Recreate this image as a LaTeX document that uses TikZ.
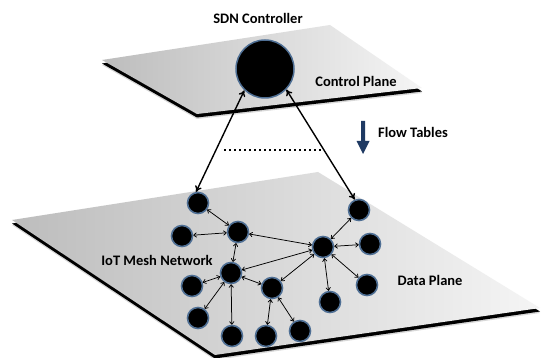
\documentclass[tikz,border=0pt]{standalone}
\usepackage{fontspec}
\setmainfont{Carlito}
\usetikzlibrary{arrows.meta,calc}
\definecolor{devblue}{HTML}{4F6F94}
\definecolor{flownavy}{HTML}{1F3A63}
\begin{document}
\begin{tikzpicture}[x=1pt,y=-1pt,
  lbl/.style={font=\fontsize{14.5}{16}\selectfont\bfseries, inner sep=0pt},
  dev/.style={circle, fill=black, draw=devblue, line width=1.6pt, minimum size=21pt, inner sep=0pt},
  ctrlnode/.style={circle, fill=black, draw=devblue, line width=1.5pt, minimum size=58pt, inner sep=0pt},
  link/.style={{To[length=3.5pt,width=5pt]}-{To[length=3.5pt,width=5pt]}, line width=0.75pt},
  uplink/.style={{To[length=6pt,width=7pt]}-{To[length=6pt,width=7pt]}, line width=1.4pt},
  planeedge/.style={fill=black},
  planeface/.style={left color=black!26, right color=black!4},
]
\useasboundingbox (0,0) rectangle (542,358);
\fill[white] (0,0) rectangle (542,358);

% ---------- data plane ----------
\coordinate (dL) at (12,220);
\coordinate (dT) at (318,172);
\coordinate (dR) at (540,308);
\coordinate (dB) at (215,355);
\fill[black!30, opacity=0.5] ($(dL)+(0,5)$) -- ($(dT)+(0,5)$) -- ($(dR)+(0,5)$) -- ($(dB)+(0,5)$) -- cycle;
\fill[planeedge] ($(dL)+(0,3.5)$) -- ($(dT)+(0,3.5)$) -- ($(dR)+(0,3.5)$) -- ($(dB)+(0,3.5)$) -- cycle;
\shade[planeface] (dL) -- (dT) -- (dR) -- (dB) -- cycle;

% ---------- control plane ----------
\coordinate (cL) at (102,60);
\coordinate (cT) at (330,25);
\coordinate (cR) at (422,88);
\coordinate (cB) at (197,114);
\fill[black!30, opacity=0.5] ($(cL)+(0,5)$) -- ($(cT)+(0,5)$) -- ($(cR)+(0,5)$) -- ($(cB)+(0,5)$) -- cycle;
\fill[planeedge] ($(cL)+(0,3.5)$) -- ($(cT)+(0,3.5)$) -- ($(cR)+(0,3.5)$) -- ($(cB)+(0,3.5)$) -- cycle;
\shade[planeface] (cL) -- (cT) -- (cR) -- (cB) -- cycle;

% ---------- labels ----------
\node[lbl] (sdn) at (258,18) {SDN Controller};
\node[lbl] (cp) at (356,81) {Control Plane};
\node[lbl] (ft) at (413,132) {Flow Tables};
\node[lbl] (iot) at (157,260) {IoT Mesh Network};
\node[lbl] (dp) at (430,280) {Data Plane};

% ---------- flow tables arrow ----------
\fill[flownavy] (361,121) -- (365,121) -- (365,141) -- (369.5,141) -- (363,154) -- (356.5,141) -- (361,141) -- cycle;

% ---------- dotted line ----------
\coordinate (dot1) at (224,150);
\coordinate (dot2) at (323,150);
\draw[line width=1.6pt, dash pattern=on 2pt off 3pt] (dot1) -- (dot2);

% ---------- controller ----------
\node[ctrlnode] (ctrl) at (265,69) {};

% ---------- devices ----------
\node[dev] (n1) at (198,203) {};
\node[dev] (n2) at (238,232) {};
\node[dev] (n3) at (182,236) {};
\node[dev] (n4) at (359,210) {};
\node[dev] (n5) at (323,247) {};
\node[dev] (n6) at (370,244) {};
\node[dev] (n7) at (231,273) {};
\node[dev] (n8) at (192,286) {};
\node[dev] (n9) at (272,288) {};
\node[dev] (n10) at (367,285) {};
\node[dev] (n11) at (330,302) {};
\node[dev] (n12) at (198,318) {};
\node[dev] (n13) at (232,336) {};
\node[dev] (n14) at (266,336) {};
\node[dev] (n15) at (300,331) {};

% ---------- controller links ----------
\draw[uplink] (ctrl.226) -- (n1.100);
\draw[uplink] (ctrl.316) -- (n4.112);

% ---------- mesh links ----------
\draw[link] (n1) -- (n2);
\draw[link] (n3) -- (n2);
\draw[link] (n2) -- (n5);
\draw[link] (n2) -- (n7);
\draw[link] (n4) -- (n5);
\draw[link] (n6) -- (n5);
\draw[link] (n5) -- (n7);
\draw[link] (n5) -- (n9);
\draw[link] (n5) -- (n11);
\draw[link] (n5) -- (n10);
\draw[link] (n7) -- (n8);
\draw[link] (n7) -- (n9);
\draw[link] (n7) -- (n12);
\draw[link] (n7) -- (n13);
\draw[link] (n9) -- (n14);
\draw[link] (n9) -- (n15);
\end{tikzpicture}
\end{document}
